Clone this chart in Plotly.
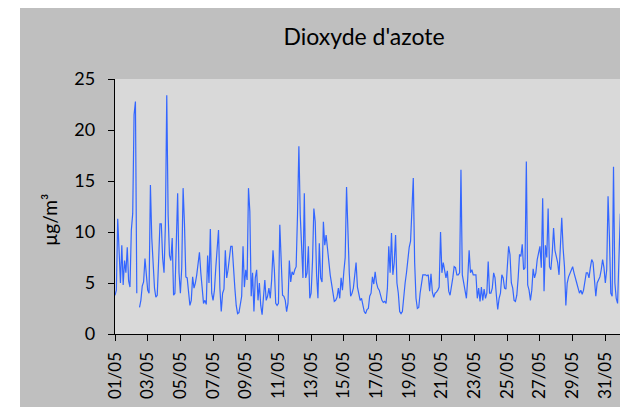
import pandas as pd
import plotly.graph_objects as go

# NO2 concentrations (µg/m³), read every 2 hours (00h, 02h, ... 22h), one row per day
week1 = [  # 01/05 - 07/05
    3.8, 4.3, 11.3, 7.5, 5.0, 8.7, 4.8, 7.2, 6.0, 8.5, 5.2, 4.6,
    10.2, 11.8, 21.5, 22.8, 4.0, None, 2.6, 3.3, 4.7, 5.1, 7.4, 5.6,
    4.3, 4.0, 14.6, 9.4, 7.1, 4.5, 3.6, 3.8, 7.1, 10.8, 10.8, 7.4,
    6.0, 10.7, 23.4, 11.7, 7.7, 7.2, 9.4, 3.8, 4.0, 9.4, 13.8, 6.0,
    4.0, 6.5, 14.3, 10.8, 5.6, 5.5, 3.7, 2.8, 3.3, 5.6, 4.5, 5.0,
    5.8, 7.0, 8.0, 6.0, 4.2, 3.0, 3.3, 2.9, 7.7, 5.0, 10.3, 4.0,
    3.3, 4.3, 6.5, 8.4, 10.2, 4.5, 2.2, 4.0, 4.4, 8.2, 5.5, 6.3,
]
week2 = [  # 08/05 - 14/05
    7.4, 8.6, 8.6, 6.0, 4.5, 2.8, 2.0, 2.1, 3.2, 3.7, 8.6, 4.6,
    6.3, 5.3, 14.3, 12.0, 3.7, 6.0, 2.2, 5.5, 6.3, 3.3, 5.0, 2.8,
    1.9, 3.3, 5.3, 3.3, 3.7, 4.5, 3.5, 5.3, 8.2, 6.3, 3.0, 2.8,
    3.0, 10.7, 7.7, 3.8, 3.7, 3.3, 2.2, 3.0, 7.2, 5.1, 6.1, 5.8,
    6.3, 6.6, 11.7, 18.4, 11.7, 7.6, 5.5, 13.8, 5.5, 6.0, 8.6, 3.5,
    4.0, 7.1, 12.3, 11.0, 5.8, 3.5, 8.9, 5.5, 5.1, 11.0, 8.7, 9.7,
    8.0, 7.1, 5.8, 5.0, 4.0, 3.2, 3.3, 3.6, 4.5, 3.5, 5.5, 4.3,
]
week3 = [  # 15/05 - 21/05
    6.1, 7.5, 14.4, 10.0, 6.0, 3.7, 4.0, 4.5, 5.8, 7.0, 4.6, 4.0,
    3.3, 3.5, 2.9, 2.2, 2.0, 2.4, 2.5, 3.7, 4.0, 5.6, 4.9, 6.1,
    5.0, 4.5, 4.3, 3.8, 3.3, 3.1, 3.2, 3.0, 4.5, 8.6, 6.0, 9.9,
    5.8, 7.0, 9.7, 5.0, 4.0, 2.2, 2.0, 2.2, 4.0, 5.0, 6.0, 7.5,
    8.5, 9.1, 13.0, 15.3, 7.0, 3.5, 2.5, 2.6, 4.0, 5.0, 5.8, 5.8,
    5.8, 5.7, 5.8, 4.2, 5.9, 4.1, 3.6, 4.0, 4.1, 4.3, 4.6, 10.0,
    6.0, 7.0, 6.0, 5.5, 6.2, 4.2, 3.8, 4.5, 5.5, 6.6, 6.5, 5.8,
]
week4 = [  # 22/05 - 28/05
    5.8, 6.0, 16.1, 5.8, 5.0, 4.2, 3.5, 5.5, 8.2, 6.0, 6.3, 5.8,
    5.8, 5.8, 3.5, 4.5, 3.2, 4.6, 3.3, 4.4, 3.5, 4.0, 7.1, 4.0,
    4.0, 4.5, 6.0, 5.5, 3.8, 2.4, 3.5, 4.0, 5.8, 5.5, 4.5, 4.4,
    6.5, 8.6, 7.8, 5.0, 4.5, 3.3, 3.2, 3.8, 5.5, 7.8, 7.6, 8.8,
    6.3, 6.5, 16.9, 4.8, 4.3, 3.3, 4.3, 6.4, 5.5, 6.0, 7.3, 8.2,
    8.6, 6.5, 13.3, 4.2, 8.7, 7.5, 12.3, 6.6, 6.3, 7.9, 10.4, 8.2,
    7.6, 7.0, 5.8, 8.4, 11.4, 8.4, 6.6, 2.8, 5.0, 5.6, 6.0, 6.3,
]
week5 = [  # 29/05 - 31/05
    6.6, 6.0, 5.6, 5.0, 4.5, 4.0, 4.3, 3.9, 4.3, 5.0, 6.0, 6.0,
    5.5, 6.5, 7.3, 7.0, 5.6, 3.7, 5.0, 5.3, 5.6, 6.3, 7.3, 6.5,
    5.0, 6.3, 13.5, 9.5, 4.0, 3.7, 16.4, 5.0, 3.5, 3.0, 8.0, 11.8,
]

values = week1 + week2 + week3 + week4 + week5
times = pd.date_range("2024-05-01 00:00", periods=len(values), freq="2h")

title_text = "Dioxyde d'azote"
y_title = "µg/m³"
font_family = "Lato, 'Open Sans', sans-serif"

fig = go.Figure()
fig.add_trace(go.Scatter(
    x=times, y=values, mode="lines",
    line=dict(color="#3366FF", width=1.2),
    connectgaps=False, showlegend=False,
))

# the page body has an 8px margin: the figure starts at (8, 8) in the window
OFF = 8
W, H = 628 - OFF, 407 - OFF
L, T = 115 - OFF, 79 - OFF
R = W + OFF - 621          # keep the plot inside the visible part of the window
B = H - (334 - OFF)
pw, ph = W - L - R, H - T - B

def px_x(px):  # window pixel -> paper x
    return (px - OFF - L) / pw

def px_y(py):  # window pixel -> paper y
    return (H - B - (py - OFF)) / ph

fig.update_layout(
    width=W, height=H,
    margin=dict(l=L, r=R, t=T, b=B, pad=0),
    paper_bgcolor="#BFBFBF",
    plot_bgcolor="#D9D9D9",
    font=dict(family=font_family, color="#000000"),
    title=dict(text=title_text, font=dict(size=23, color="#000000"),
               x=px_x(364), xref="paper", xanchor="center",
               y=1 - (37 - OFF) / H, yref="container", yanchor="middle"),
    xaxis=dict(
        type="date",
        range=["2024-05-01 00:00", "2024-05-31 23:00"],
        tick0="2024-05-01", dtick=2 * 86400000,
        tickformat="%d/%m", tickangle=-90,
        ticks="outside", ticklen=6, tickcolor="#000000", tickwidth=1.3,
        showline=True, linecolor="#000000", linewidth=1.3,
        showgrid=False, zeroline=False,
        tickfont=dict(size=17, color="#000000"),
        ticklabelstandoff=4,
    ),
    yaxis=dict(
        range=[0, 25], dtick=5,
        ticks="outside", ticklen=6, tickcolor="#000000", tickwidth=1.3,
        showline=True, linecolor="#000000", linewidth=1.3,
        showgrid=False, zeroline=False,
        tickfont=dict(size=18, color="#000000"),
        ticklabelstandoff=9,
    ),
    shapes=[
        dict(type="rect", xref="paper", yref="paper", layer="above",
             x0=px_x(0), x1=px_x(20), y0=px_y(H + OFF + 5), y1=px_y(0),
             fillcolor="#FFFFFF", line=dict(width=0)),
    ],
    annotations=[
        dict(text=y_title, textangle=-90, showarrow=False,
             xref="paper", yref="paper", x=px_x(49), y=px_y(220),
             xanchor="center", yanchor="middle",
             font=dict(size=19, color="#000000")),
    ],
)

fig.write_html("out.html")
